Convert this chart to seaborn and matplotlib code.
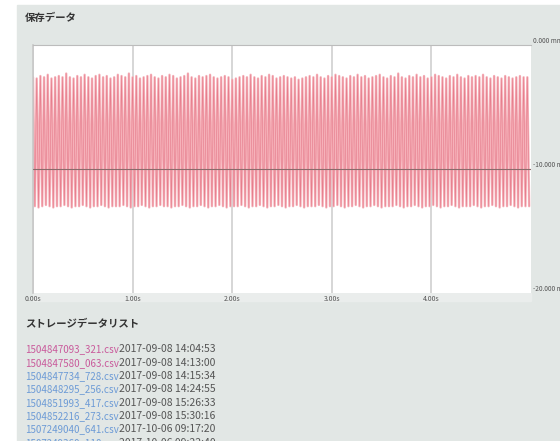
"""
Stored displacement data screen: waveform panel plus storage file list.
"""

import numpy as np
import pandas as pd
import matplotlib
matplotlib.use("Agg")
import matplotlib.pyplot as plt
import seaborn as sns
from matplotlib.patches import Rectangle

sns.set_theme(style="white")
plt.rcParams["font.family"] = ["Noto Sans CJK JP", "DejaVu Sans"]

W, H = 560, 441

PANEL_TITLE = "保存データ"
LIST_TITLE = "ストレージデータリスト"

x_ticks = [0, 1, 2, 3, 4]
x_tick_labels = ["0.00s", "1.00s", "2.00s", "3.00s", "4.00s"]
y_ticks = [0, -10, -20]
y_tick_labels = ["0.000 mm", "-10.000 mm", "-20.000 mm"]

# one peak and one trough per cycle (mm)
cycle_time = 5.0 / 135
peaks = [
    -2.6, -2.7, -2.5, -2.6, -2.4, -2.7, -2.6, -2.5, -2.6, -2.3, -2.6, -2.7, -2.5, -2.6, -2.4,
    -2.6, -2.7, -2.5, -2.4, -2.6, -2.5, -2.7, -2.6, -2.4, -2.5, -2.6, -2.3, -2.6, -2.5, -2.7,
    -2.6, -2.5, -2.4, -2.6, -2.7, -2.5, -2.6, -2.4, -2.5, -2.7, -2.6, -2.5, -2.3, -2.6, -2.7,
    -2.5, -2.6, -2.5, -2.4, -2.6, -2.7, -2.6, -2.5, -2.6, -2.8, -2.7, -2.6, -2.5, -2.6, -2.4,
    -2.6, -2.7, -2.5, -2.6, -2.4, -2.5, -2.7, -2.6, -2.5, -2.6, -2.7, -2.6, -2.8, -2.7, -2.6,
    -2.5, -2.6, -2.4, -2.6, -2.7, -2.5, -2.6, -2.4, -2.5, -2.6, -2.7, -2.5, -2.6, -2.4, -2.6,
    -2.5, -2.7, -2.6, -2.5, -2.4, -2.6, -2.7, -2.5, -2.6, -2.3, -2.6, -2.7, -2.5, -2.6, -2.4,
    -2.6, -2.5, -2.7, -2.6, -2.4, -2.5, -2.6, -2.7, -2.5, -2.6, -2.4, -2.6, -2.7, -2.5, -2.6,
    -2.5, -2.6, -2.4, -2.6, -2.7, -2.5, -2.6, -2.7, -2.5, -2.6, -2.7, -2.6, -2.5, -2.6, -2.6,
]
troughs = [
    -13.0, -13.1, -13.0, -12.9, -13.0, -13.1, -13.0, -13.0, -12.9, -13.0, -13.1, -13.0, -13.0, -12.9, -13.0,
    -13.1, -13.0, -13.0, -12.9, -13.0, -13.1, -13.0, -13.0, -13.0, -12.9, -13.0, -13.1, -13.0, -13.0, -12.9,
    -13.0, -13.1, -13.0, -13.0, -12.9, -13.0, -13.0, -13.1, -13.0, -13.0, -12.9, -13.0, -13.1, -13.0, -13.0,
    -12.9, -13.0, -13.1, -13.0, -13.0, -12.9, -13.0, -13.1, -13.0, -13.0, -13.0, -12.9, -13.0, -13.1, -13.0,
    -13.0, -12.9, -13.0, -13.1, -13.0, -13.0, -12.9, -13.0, -13.1, -13.0, -13.0, -12.9, -13.0, -13.1, -13.0,
    -13.0, -13.0, -12.9, -13.0, -13.1, -13.0, -13.0, -12.9, -13.0, -13.1, -13.0, -13.0, -12.9, -13.0, -13.1,
    -13.0, -13.0, -12.9, -13.0, -13.1, -13.0, -13.0, -13.0, -12.9, -13.0, -13.1, -13.0, -13.0, -12.9, -13.0,
    -13.1, -13.0, -13.0, -12.9, -13.0, -13.1, -13.0, -13.0, -12.9, -13.0, -13.1, -13.0, -13.0, -13.0, -12.9,
    -13.0, -13.1, -13.0, -13.0, -12.9, -13.0, -13.1, -13.0, -13.0, -12.9, -13.0, -13.1, -13.0, -13.0, -13.0,
]
baseline = -10.0

files = [
    "1504847093_321.csv", "1504847580_063.csv", "1504847734_728.csv",
    "1504848295_256.csv", "1504851993_417.csv", "1504852216_273.csv",
    "1507249040_641.csv", "1507249360_118.csv",
]
stamps = [
    "2017-09-08 14:04:53", "2017-09-08 14:13:00", "2017-09-08 14:15:34",
    "2017-09-08 14:24:55", "2017-09-08 15:26:33", "2017-09-08 15:30:16",
    "2017-10-06 09:17:20", "2017-10-06 09:22:40",
]
visited = [True, True, False, False, False, False, False, False]


def build_trace():
    """Interleave peaks and troughs into one time series."""
    n = len(peaks)
    t_peak = np.arange(n) * cycle_time
    t_trough = t_peak + cycle_time / 2
    df = pd.DataFrame({
        "t": np.concatenate([t_peak, t_trough]),
        "mm": np.concatenate([peaks, troughs]),
    })
    return df.sort_values("t").reset_index(drop=True)


def main():
    fig = plt.figure(figsize=(W / 100, H / 100), dpi=100, facecolor="white")
    fig.patches.append(Rectangle((17 / W, 0), 1 - 17 / W, 1 - 5 / H,
                                 transform=fig.transFigure, color="#e2e7e5", zorder=-10))
    # pale strip behind the time labels
    fig.patches.append(Rectangle((33 / W, 1 - 301 / H), 498 / W, 8 / H,
                                 transform=fig.transFigure, color="#eaedec", zorder=-9))

    ax = fig.add_axes([33 / W, 1 - 293 / H, 498 / W, 248 / H])
    ax.set_facecolor("white")

    df = build_trace()
    # soft pink body, then a thin darker stroke on top
    sns.lineplot(data=df, x="t", y="mm", ax=ax, estimator=None, sort=False,
                 color="#f6b2ba", lw=1.7, zorder=2)
    sns.lineplot(data=df, x="t", y="mm", ax=ax, estimator=None, sort=False,
                 color="#e67d8c", lw=0.45, zorder=2.5)
    ax.axhline(baseline, color="#8a6b6b", lw=0.8, zorder=3)

    ax.set_xlim(0, 5)
    ax.set_ylim(-20, 0)
    ax.set_xticks(x_ticks)
    ax.set_xticklabels(x_tick_labels)
    ax.set_yticks(y_ticks)
    ax.set_yticklabels(y_tick_labels)
    ax.yaxis.tick_right()
    ax.tick_params(axis="x", length=0, pad=1.5, labelsize=5.0, labelcolor="#555555")
    ax.tick_params(axis="y", length=0, pad=1.5, labelsize=4.7, labelcolor="#555555")
    for lbl in ax.get_yticklabels():
        lbl.set_verticalalignment("bottom")
    ax.set_xlabel("")
    ax.set_ylabel("")

    ax.grid(axis="x", color="#cfcfcf", lw=1.2, zorder=1)
    ax.set_axisbelow(True)
    for side in ["right", "bottom"]:
        ax.spines[side].set_visible(False)
    ax.spines["left"].set_color("#c8c8c8")
    ax.spines["left"].set_linewidth(1.2)
    ax.spines["top"].set_color("#bcbcbc")
    ax.spines["top"].set_linewidth(0.8)

    fig.text(25 / W, 1 - 18 / H, PANEL_TITLE, fontsize=7.5, fontweight="bold",
             color="#333333", va="center")
    fig.text(25 / W, 1 - 324 / H, LIST_TITLE, fontsize=7.5, fontweight="bold",
             color="#333333", va="center")

    for i, (name, stamp) in enumerate(zip(files, stamps)):
        y = 1 - (349.3 + 13.33 * i) / H
        fig.text(25 / W, y, name, fontsize=7.0, va="center",
                 color="#c95a9b" if visited[i] else "#6d9bd6")
        fig.text(119 / W, y, stamp, fontsize=7.5, va="center", color="#555555")

    fig.savefig("out.png", dpi=100)
    plt.close(fig)


if __name__ == "__main__":
    main()
